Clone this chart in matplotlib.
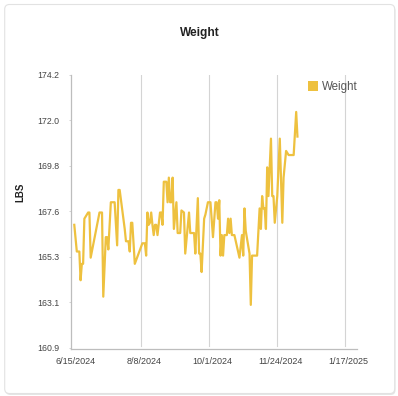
import numpy as np
import pandas as pd
import matplotlib
matplotlib.use('Agg')
import matplotlib.pyplot as plt
import matplotlib.transforms as mtransforms
from matplotlib.patches import FancyBboxPatch, Patch

plt.rcParams['font.family'] = ['Liberation Sans', 'DejaVu Sans']

# readings: days after 6/15/2024 and weight in lbs
start_date = '2024-06-15'
day_offsets = [1, 3, 5, 6, 7, 8, 9, 12, 13, 14, 21, 23, 24, 26, 27, 28, 30, 33, 35, 36,
               37, 41, 42, 44, 45, 46, 47, 49, 55, 57, 58, 59, 60, 61, 62, 63, 64, 65, 66, 67,
               69, 70, 71, 72, 74, 75, 76, 77, 78, 79, 80, 82, 83, 85, 86, 88, 89, 92, 93, 96,
               97, 99, 100, 101, 102, 104, 105, 107, 109, 111, 113, 114, 115, 116, 117, 118, 119, 120, 122, 123,
               124, 125, 126, 128, 132, 134, 135, 136, 137, 140, 141, 142, 146, 148, 149, 150, 151, 152, 153, 154,
               155, 157, 158, 159, 160, 162, 164, 166, 167, 169, 171, 175, 177, 178]
weights = [166.9, 165.6, 165.6, 164.2, 165.0, 165.0, 167.2, 167.5, 167.5, 165.3,
           167.5, 167.5, 163.4, 166.3, 166.3, 165.7, 168.0, 168.0, 165.9, 168.6,
           168.6, 166.7, 166.1, 166.1, 165.6, 167.0, 167.0, 165.0, 166.0, 166.0,
           165.4, 167.5, 166.9, 167.0, 167.5, 166.9, 166.4, 166.9, 166.9, 166.4,
           167.5, 167.5, 166.9, 169.0, 169.0, 168.0, 169.2, 168.0, 168.0, 169.2,
           166.7, 168.0, 166.5, 166.5, 167.6, 167.5, 165.5, 167.5, 166.5, 166.5,
           165.5, 168.2, 165.5, 165.5, 164.6, 167.2, 167.4, 168.0, 168.0, 166.3,
           168.0, 168.0, 167.2, 168.1, 165.4, 166.4, 165.4, 166.4, 166.4, 167.2,
           166.5, 167.2, 166.4, 166.4, 165.3, 166.4, 165.4, 167.7, 166.6, 165.5,
           163.0, 165.4, 165.4, 167.7, 166.7, 168.3, 167.7, 167.7, 166.7, 169.7,
           168.3, 171.1, 168.3, 168.3, 167.0, 168.3, 171.1, 167.0, 169.2, 170.5,
           170.3, 170.3, 172.4, 171.2]

x_ticks = ['6/15/2024', '8/8/2024', '10/1/2024', '11/24/2024', '1/17/2025']
y_tick_labels = ['160.9', '163.1', '165.3', '167.6', '169.8', '172.0', '174.2']

color = '#eec13f'

dates = pd.Timestamp(start_date) + pd.to_timedelta(day_offsets, unit='D')
tick_dates = pd.to_datetime(x_ticks, format='%m/%d/%Y')

fig = plt.figure(figsize=(3.98, 3.96), dpi=100)
fig.patch.set_facecolor('white')

# card background
shadow = FancyBboxPatch((5.5 / 398, 1 / 396), 390 / 398, 389 / 396,
                        boxstyle='round,pad=0,rounding_size=0.012',
                        transform=fig.transFigure, facecolor='#e6e6e6', edgecolor='none', zorder=-2)
card = FancyBboxPatch((4.7 / 398, 2.5 / 396), 390 / 398, 389 / 396,
                      boxstyle='round,pad=0,rounding_size=0.012',
                      transform=fig.transFigure, facecolor='white', edgecolor='#e2e2e2',
                      linewidth=0.8, zorder=-1)
fig.patches.extend([shadow, card])

ax = fig.add_axes([70.5 / 398, 47 / 396, 286.2 / 398, 274 / 396])
ax.set_facecolor('none')

ax.plot(dates, weights, color=color, linewidth=1.6, zorder=3)

ax.set_xlim(pd.Timestamp(start_date) - pd.Timedelta(days=2),
            pd.Timestamp(start_date) + pd.Timedelta(days=225))
ax.set_ylim(160.85, 174.2)

# vertical gridlines (none drawn on the first tick, it sits on the axis)
for d in tick_dates[1:]:
    ax.axvline(d, ymin=0.01, ymax=1, color='#d4d4d4', linewidth=0.8, zorder=1)

ax.set_xticks(tick_dates)
ax.set_xticklabels(x_ticks)
ax.set_yticks(np.linspace(160.9, 174.2, 7))
ax.set_yticklabels(y_tick_labels)

ax.tick_params(axis='x', length=0, pad=5.5, labelsize=6.5, labelcolor='#444444')
ax.tick_params(axis='y', length=1.5, width=0.6, color='#cccccc', pad=6.5,
               labelsize=6.3, labelcolor='#444444')
shift = mtransforms.ScaledTranslation(3 / 100, 0, fig.dpi_scale_trans)
for lbl in ax.get_xticklabels():
    lbl.set_transform(lbl.get_transform() + shift)

for side in ['top', 'right']:
    ax.spines[side].set_visible(False)
for side in ['left', 'bottom']:
    ax.spines[side].set_color('#bdbdbd')
    ax.spines[side].set_linewidth(0.9)

fig.text(200 / 398, 1 - 33 / 396, 'Weight', ha='center', va='center',
         fontsize=8.6, fontweight='bold', color='#222222')
fig.text(20 / 398, 1 - 192 / 396, 'LBS', ha='center', va='center', rotation=90,
         fontsize=7, fontweight='bold', color='#222222')

ax.legend(handles=[Patch(facecolor=color, edgecolor='none', label='Weight')],
          loc='center left', bbox_to_anchor=(302 / 398, 1 - 87 / 396),
          bbox_transform=fig.transFigure, frameon=False, borderpad=0,
          handlelength=0.9, handleheight=0.9, handletextpad=0.3,
          prop={'size': 8.3}, labelcolor='#555555')

fig.savefig('out.png', dpi=100)
